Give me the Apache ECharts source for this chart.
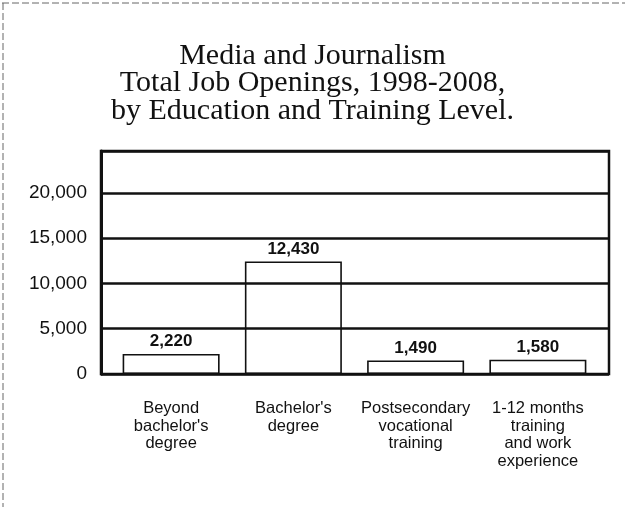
<!DOCTYPE html>
<html>
<head>
<meta charset="utf-8">
<script src="https://cdn.jsdelivr.net/npm/echarts@6/dist/echarts.min.js"></script>
<style>
  html, body { margin: 0; padding: 0; background: #ffffff; }
  #chart { width: 625px; height: 507px; }
</style>
</head>
<body>
<div id="chart"></div>
<script>
// Job openings by education / training level
const categories = [
  "Beyond\nbachelor's\ndegree",
  "Bachelor's\ndegree",
  "Postsecondary\nvocational\ntraining",
  "1-12 months\ntraining\nand work\nexperience"
];
const openings = [2220, 12430, 1490, 1580];
const yTicks = [0, 5000, 10000, 15000, 20000];

const titleText = 'Media and Journalism\nTotal Job Openings, 1998-2008,\nby Education and Training Level.';

const ink = '#111111';
const yMax = 24640;
const fmt = v => v.toLocaleString('en-US');

const chart = echarts.init(document.getElementById('chart'), null, { renderer: 'canvas' });

chart.setOption({
  backgroundColor: '#ffffff',
  animation: false,
  title: {
    text: titleText,
    left: 'center',
    top: 37,
    textStyle: {
      fontFamily: 'Liberation Serif',
      fontWeight: 'normal',
      fontSize: 30,
      lineHeight: 27.5,
      color: ink
    }
  },
  grid: [
    // framed panel carrying the value scale and rules
    { left: 101, right: 16, top: 151, bottom: 133, show: true,
      borderColor: ink, borderWidth: 2.5, backgroundColor: 'transparent' },
    // inner band where the bars sit
    { left: 110, right: 26, top: 151, bottom: 133 }
  ],
  xAxis: [
    { gridIndex: 0, type: 'value', min: 0, max: 1, show: false },
    {
      gridIndex: 1, type: 'category', data: categories,
      axisLine: { show: false }, axisTick: { show: false },
      axisLabel: {
        interval: 0, margin: 26,
        fontFamily: 'Liberation Sans', fontSize: 16.5, lineHeight: 17.5,
        color: ink, align: 'center'
      }
    }
  ],
  yAxis: [
    {
      gridIndex: 0, type: 'value', min: yTicks[0], max: yMax, interval: 5000,
      axisLine: { show: true, lineStyle: { color: ink, width: 3 } },
      axisTick: { show: false },
      axisLabel: {
        margin: 14, fontFamily: 'Liberation Sans', fontSize: 19, color: ink,
        showMaxLabel: false,
        formatter: v => (yTicks.includes(v) ? fmt(v) : '')
      },
      splitLine: { show: true, lineStyle: { color: ink, width: 2.5 } }
    },
    { gridIndex: 1, type: 'value', min: yTicks[0], max: yMax, show: false,
      splitLine: { show: false } }
  ],
  series: [
    {
      type: 'bar', xAxisIndex: 1, yAxisIndex: 1,
      data: openings, barWidth: 97,
      itemStyle: { color: 'rgba(255,255,255,0)', borderColor: ink, borderWidth: 1.6 },
      label: {
        show: true, position: 'top', distance: 4,
        fontFamily: 'Liberation Sans', fontWeight: 'bold', fontSize: 17, color: ink,
        formatter: p => fmt(p.value)
      }
    }
  ],
  graphic: [
    // dashed page edge along the top and left
    { type: 'line', shape: { x1: 2, y1: 3, x2: 625, y2: 3 },
      style: { stroke: '#666', lineWidth: 1, lineDash: [7, 3] }, silent: true },
    { type: 'line', shape: { x1: 3, y1: 3, x2: 3, y2: 507 },
      style: { stroke: '#666', lineWidth: 1, lineDash: [7, 3] }, silent: true }
  ]
});
</script>
</body>
</html>
